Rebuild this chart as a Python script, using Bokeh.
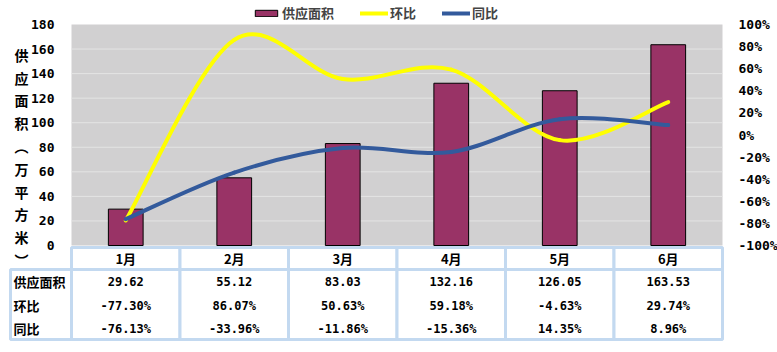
from bokeh.plotting import figure
from bokeh.models import (Range1d, LinearAxis, FixedTicker, PrintfTickFormatter, Legend,
                          LegendItem, BoxAnnotation, ColumnDataSource)
from bokeh.core.properties import value
from bokeh.embed import file_html
from bokeh.resources import INLINE

# ---------------- data ----------------
months = ["1月", "2月", "3月", "4月", "5月", "6月"]
supply = [29.62, 55.12, 83.03, 132.16, 126.05, 163.53]     # 供应面积 (万平方米)
huanbi = [-77.30, 86.07, 50.63, 59.18, -4.63, 29.74]        # 环比 (%)
tongbi = [-76.13, -33.96, -11.86, -15.36, 14.35, 8.96]      # 同比 (%)
left_ticks = [0, 20, 40, 60, 80, 100, 120, 140, 160, 180]
right_ticks = [-100, -80, -60, -40, -20, 0, 20, 40, 60, 80, 100]
row_labels = ["供应面积", "环比", "同比"]
y_title = "供应面积（万平方米）"

# ---------------- layout constants (pixels) ----------------
W, H = 777, 352
FL, FR = 71, 722          # plot area left/right
PT, P0 = 24, 245          # y of 180 and of 0
HDR_T, HDR_B, TBL_B = 247, 269, 339
LBL_L = 10
n = len(months)
ppu = (FR - FL) / n       # pixels per category unit
upp = 180 / (P0 - PT)     # left-axis units per pixel
ppp = 200 / (P0 - PT)     # percent units per pixel


def sx(px):
    return (px - FL) / ppu


def sy(py):
    return (P0 - py) * upp


CJK = "Noto Sans CJK SC"
MONO = "DejaVu Sans Mono"
BORDER = "#c3d9f0"
GRID = "#e4e4e4"
BG = "#d1d0d1"

xc = [i + 0.5 for i in range(n)]

p = figure(width=W, height=H, min_border=0,
           x_range=Range1d(sx(0), sx(W)), y_range=Range1d(sy(H), sy(0)),
           x_axis_location=None, y_axis_location=None,
           output_backend="svg", toolbar_location=None,
           background_fill_color="white", border_fill_color="white", outline_line_color=None)
p.grid.visible = False
p.extra_y_ranges = {"pct": Range1d(-100 - (H - P0) * ppp, 100 + PT * ppp)}

# plot area background + grid
p.add_layout(BoxAnnotation(left=0, right=n, bottom=left_ticks[0], top=left_ticks[-1],
                           fill_color=BG, fill_alpha=1, line_color=None, level="image"))
inner = left_ticks[1:-1]
p.segment(x0=[0] * len(inner), x1=[n] * len(inner), y0=inner, y1=inner,
          line_color=GRID, line_width=1, level="underlay")


def style_axis(ax, standoff):
    ax.axis_line_color = None
    ax.major_tick_line_color = None
    ax.minor_tick_line_color = None
    ax.major_label_standoff = standoff
    ax.major_label_text_font = MONO
    ax.major_label_text_font_style = "bold"
    ax.major_label_text_font_size = "13px"
    ax.major_label_text_color = "black"


lax = LinearAxis(ticker=FixedTicker(ticks=left_ticks), fixed_location=0,
                 bounds=(left_ticks[0], left_ticks[-1]))
style_axis(lax, 11)
p.add_layout(lax, "left")

rax = LinearAxis(y_range_name="pct", ticker=FixedTicker(ticks=right_ticks),
                 formatter=PrintfTickFormatter(format="%d%%"), fixed_location=n,
                 bounds=(right_ticks[0], right_ticks[-1]))
style_axis(rax, 10)
p.add_layout(rax, "right")

# bars
bars = p.vbar(x=xc, top=supply, bottom=0, width=0.32, fill_color="#993366",
              line_color="black", line_width=1)


def smooth(xs, ys):
    m = len(xs)
    d = dict(x0=[], y0=[], x1=[], y1=[], cx0=[], cy0=[], cx1=[], cy1=[])
    for i in range(m - 1):
        a = i - 1 if i > 0 else i
        b = i + 2 if i + 2 < m else i + 1
        d["x0"].append(xs[i]); d["y0"].append(ys[i])
        d["x1"].append(xs[i + 1]); d["y1"].append(ys[i + 1])
        d["cx0"].append(xs[i] + (xs[i + 1] - xs[a]) / 6)
        d["cy0"].append(ys[i] + (ys[i + 1] - ys[a]) / 6)
        d["cx1"].append(xs[i + 1] - (xs[b] - xs[i]) / 6)
        d["cy1"].append(ys[i + 1] - (ys[b] - ys[i]) / 6)
    return ColumnDataSource(d)


YEL, BLU = "#ffff00", "#335a9c"
r_h = p.bezier(x0="x0", y0="y0", x1="x1", y1="y1", cx0="cx0", cy0="cy0", cx1="cx1", cy1="cy1",
               source=smooth(xc, huanbi), y_range_name="pct", line_color=YEL, line_width=4,
               line_cap="round")
r_t = p.bezier(x0="x0", y0="y0", x1="x1", y1="y1", cx0="cx0", cy0="cy0", cx1="cx1", cy1="cy1",
               source=smooth(xc, tongbi), y_range_name="pct", line_color=BLU, line_width=4,
               line_cap="round")

legend = Legend(items=[LegendItem(label="供应面积", renderers=[bars]),
                       LegendItem(label="环比", renderers=[r_h]),
                       LegendItem(label="同比", renderers=[r_t])],
                orientation="horizontal", location=(252, H - 22),
                glyph_width=28, glyph_height=8, label_height=14, label_standoff=2,
                spacing=26, padding=1, margin=0,
                border_line_color=None, background_fill_alpha=0,
                label_text_font=CJK, label_text_font_style="bold", label_text_font_size="13px")
p.add_layout(legend, "center")

# y-axis title (stacked vertical characters)
vt = y_title.replace("（", "︵").replace("）", "︶")
p.text(x=[sx(21)], y=[sy(157)], text=["\n".join(vt)], text_align="center",
       text_baseline="middle", text_font=value(CJK), text_font_style="bold",
       text_font_size="14px", text_line_height=1.14)

# ---------------- table ----------------
# header row
p.quad(left=list(range(n)), right=list(range(1, n + 1)), top=[sy(HDR_T)] * n,
       bottom=[sy(HDR_B)] * n, fill_color="white", line_color=BORDER, line_width=3)
p.text(x=xc, y=[sy(258)] * n, text=months, text_align="center",
       text_baseline="middle", text_font=value(CJK), text_font_style="bold",
       text_font_size="13px")
# body
p.quad(left=[sx(LBL_L)] + list(range(n)), right=[0] + list(range(1, n + 1)),
       top=[sy(HDR_B)] * (n + 1), bottom=[sy(TBL_B)] * (n + 1),
       fill_color="white", line_color=BORDER, line_width=3)
row_y = [sy(281), sy(305), sy(328)]
p.text(x=[sx(13)] * 3, y=row_y, text=row_labels, text_align="left",
       text_baseline="middle", text_font=value(CJK), text_font_style="bold",
       text_font_size="13px")
vals = ([f"{v:.2f}" for v in supply], [f"{v:.2f}%" for v in huanbi],
        [f"{v:.2f}%" for v in tongbi])
for ry, row in zip(row_y, vals):
    p.text(x=xc, y=[ry] * n, text=row, text_align="center", text_baseline="middle",
           text_font=value(MONO), text_font_style="bold", text_font_size="12px")

open("out.html", "w").write(file_html(p, INLINE))
